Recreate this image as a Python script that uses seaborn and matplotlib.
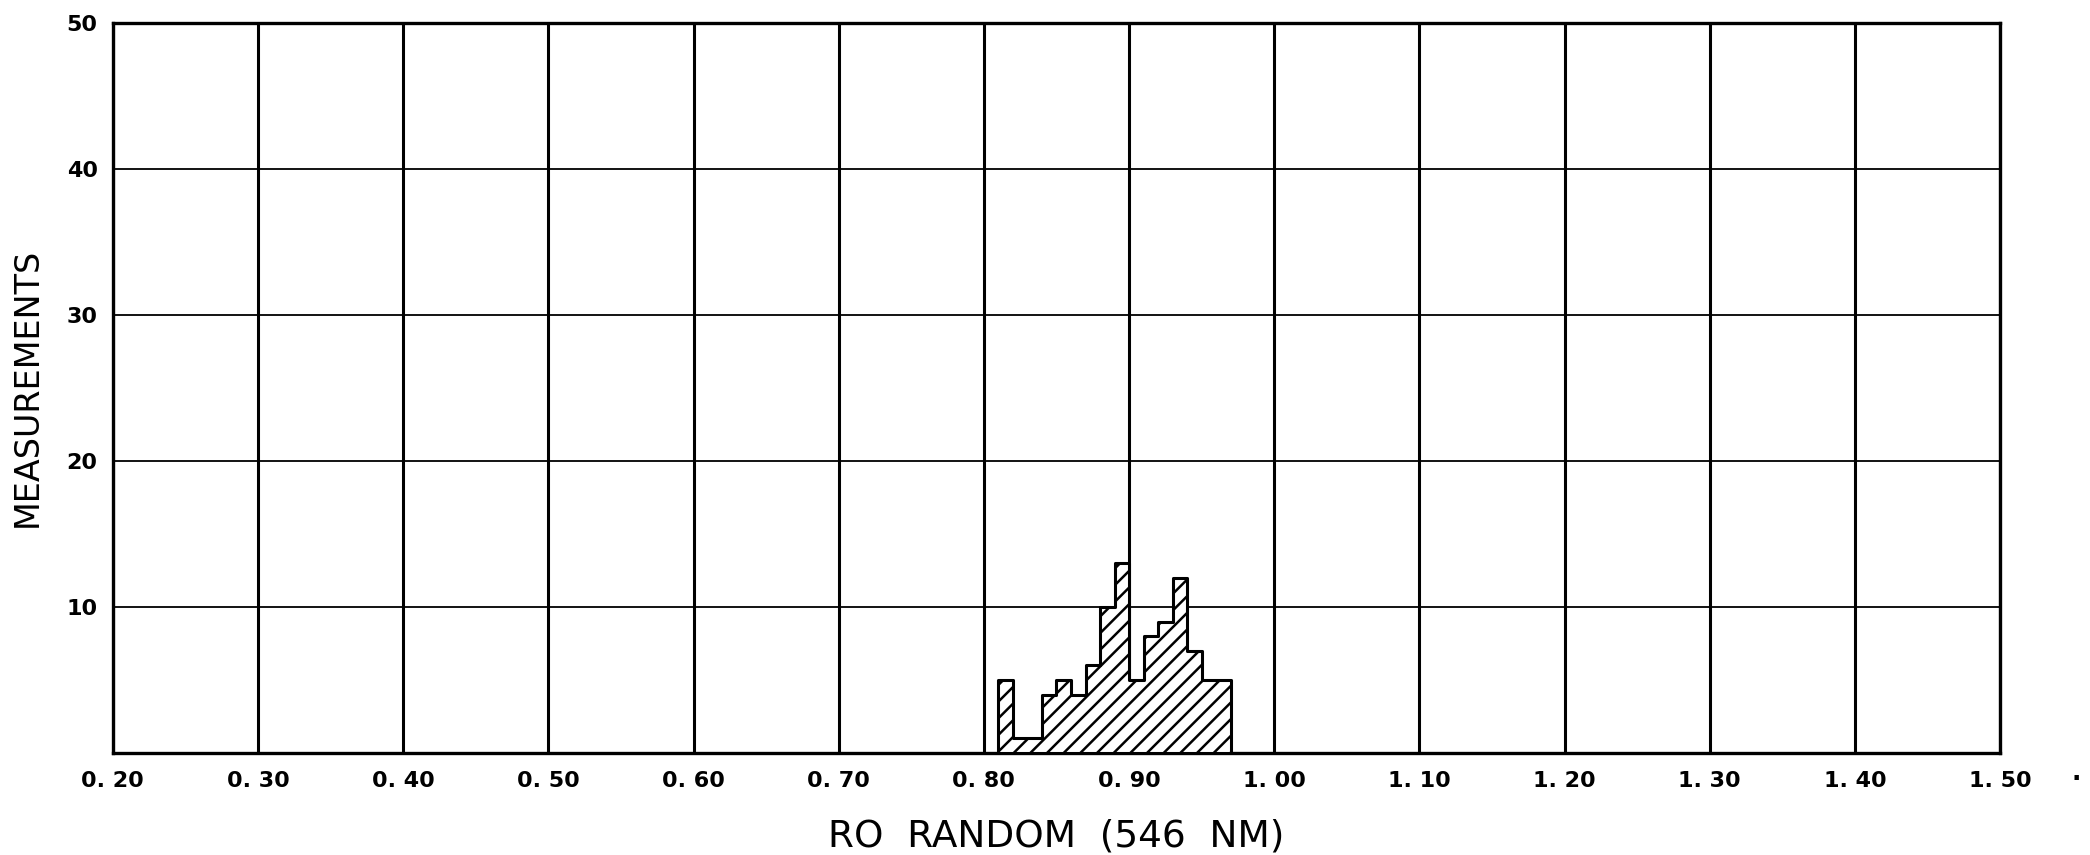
import numpy as np
import pandas as pd
import matplotlib
matplotlib.use("Agg")
import matplotlib.pyplot as plt
import seaborn as sns

# Histogram bins (left edges, width 0.01) and counts
bin_left = [0.81, 0.82, 0.83, 0.84, 0.85, 0.86, 0.87, 0.88,
            0.89, 0.90, 0.91, 0.92, 0.93, 0.94, 0.95, 0.96]
counts = [5, 1, 1, 4, 5, 4, 6, 10, 13, 5, 8, 9, 12, 7, 5, 5]
bin_width = 0.01

x_ticks = [0.20, 0.30, 0.40, 0.50, 0.60, 0.70, 0.80, 0.90, 1.00, 1.10, 1.20, 1.30, 1.40, 1.50]
x_tick_labels = ["0. 20", "0. 30", "0. 40", "0. 50", "0. 60", "0. 70", "0. 80",
                 "0. 90", "1. 00", "1. 10", "1. 20", "1. 30", "1. 40", "1. 50"]
y_ticks = [0, 10, 20, 30, 40, 50]
y_tick_labels = ["", "10", "20", "30", "40", "50"]

df = pd.DataFrame({"ro": np.array(bin_left) + bin_width / 2, "n": counts})
edges = np.round(np.append(bin_left, bin_left[-1] + bin_width), 2).tolist()

sns.set_style("white")
plt.rcParams["font.family"] = ["DejaVu Sans"]
plt.rcParams["text.color"] = "black"
plt.rcParams["axes.labelcolor"] = "black"
plt.rcParams["xtick.color"] = "black"
plt.rcParams["ytick.color"] = "black"
plt.rcParams["hatch.linewidth"] = 1.8
plt.rcParams["hatch.color"] = "black"

fig = plt.figure(figsize=(20.9, 8.55), dpi=100)
ax = fig.add_axes([0.054, 0.1193, 0.903, 0.8542])

# grid first so the histogram sits on top
for xv in x_ticks:
    ax.axvline(xv, color="black", lw=2.2, zorder=1)
for yv in y_ticks[1:]:
    ax.axhline(yv, color="black", lw=1.3, zorder=1)

sns.histplot(data=df, x="ro", weights="n", bins=edges, element="step", fill=True,
             facecolor="white", edgecolor="black", hatch="//", linewidth=2.2,
             ax=ax, zorder=3)

ax.set_xlim(0.20, 1.50)
ax.set_ylim(0, 50)
ax.set_xticks(x_ticks)
ax.set_xticklabels(x_tick_labels, fontsize=16, fontweight="bold")
ax.set_xticks(np.round(np.arange(0.25, 1.50, 0.10), 2), minor=True)
ax.set_yticks(y_ticks)
ax.set_yticklabels(y_tick_labels, fontsize=16, fontweight="bold")
ax.tick_params(axis="x", which="major", direction="out", length=10, width=2, pad=3)
ax.tick_params(axis="x", which="minor", direction="out", length=7, width=1.5)
ax.tick_params(axis="y", which="major", direction="out", length=8, width=2, pad=3)

for s in ax.spines.values():
    s.set_visible(True)
    s.set_color("black")
    s.set_linewidth(2.4)

ax.set_xlabel("RO  RANDOM  (546  NM)", fontsize=27, labelpad=20)
ax.set_ylabel("MEASUREMENTS", fontsize=24, labelpad=16)
fig.text(0.9935, 0.088, ".", fontsize=18, fontweight="bold", ha="center")

fig.savefig("out.png", dpi=100, facecolor="white")
